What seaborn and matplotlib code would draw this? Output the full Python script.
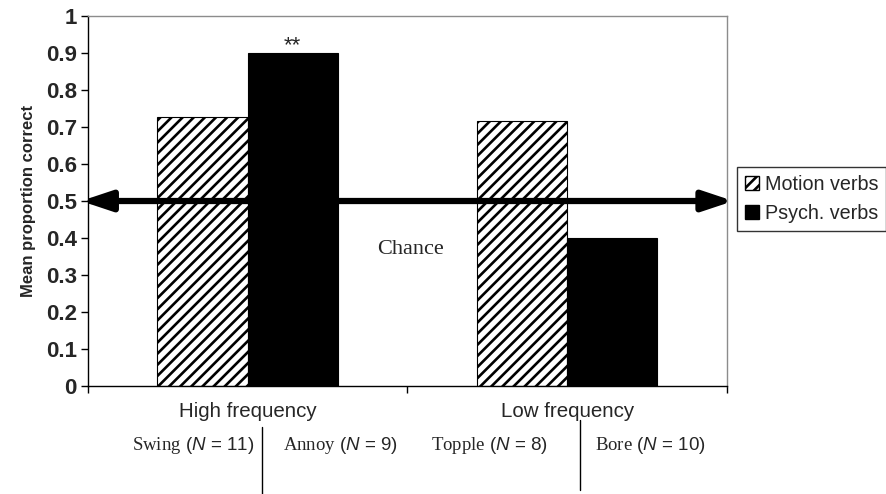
import pandas as pd
import seaborn as sns
import matplotlib.pyplot as plt
from matplotlib.patches import Patch

# data
groups = ["High frequency", "Low frequency"]
verb_types = ["Motion verbs", "Psych. verbs"]
motion_vals = [0.727, 0.716]
psych_vals = [0.90, 0.40]
sub_labels = ["Swing", "Annoy", "Topple", "Bore"]
sub_n = [11, 9, 8, 10]
chance_level = 0.5

df = pd.DataFrame({
    "group": groups * 2,
    "verb": [verb_types[0]] * 2 + [verb_types[1]] * 2,
    "prop": motion_vals + psych_vals,
})

sns.set_style("white")
plt.rcParams["font.family"] = ["Liberation Sans", "DejaVu Sans"]
plt.rcParams["mathtext.fontset"] = "custom"
plt.rcParams["mathtext.rm"] = "Liberation Serif"
plt.rcParams["mathtext.it"] = "Liberation Sans:italic"
plt.rcParams["hatch.linewidth"] = 1.9

fig = plt.figure(figsize=(8.87, 4.94), dpi=100)
ax = fig.add_axes([0.0992, 0.2186, 0.7204, 0.749])

sns.barplot(data=df, x="group", y="prop", hue="verb", order=groups,
            hue_order=verb_types, palette=["white", "black"],
            edgecolor="black", linewidth=0.8, width=0.565, ax=ax, legend=False)

for bar in ax.containers[0]:
    bar.set_hatch("///")

ax.set_xlim(-0.5, 1.5)
ax.set_ylim(0, 1)
ax.set_yticks([i / 10 for i in range(11)])
ax.set_yticklabels(["0"] + [f"{i / 10:.1f}" for i in range(1, 10)] + ["1"],
                   fontweight="bold", fontsize=16)
ax.set_xticks([-0.5, 0.5, 1.5])
ax.set_xticklabels([])
ax.tick_params(axis="both", direction="out", length=5, width=1, color="black",
               left=True, bottom=True, pad=3)
ax.set_xlabel("")
ax.set_ylabel("Mean proportion correct", fontweight="bold", fontsize=12, labelpad=7)

for side in ["left", "bottom"]:
    ax.spines[side].set_color("black")
    ax.spines[side].set_linewidth(1)
for side in ["top", "right"]:
    ax.spines[side].set_color("#8c8c8c")
    ax.spines[side].set_linewidth(1)

# chance arrow
ax.annotate("", xy=(1.52, chance_level), xytext=(-0.522, chance_level),
            arrowprops=dict(arrowstyle="<|-|>,head_length=0.45,head_width=0.15",
                            lw=4.5, color="black", mutation_scale=40,
                            shrinkA=0, shrinkB=0),
            annotation_clip=False)
ax.text(0.51, 0.37, "Chance", family="Liberation Serif", fontsize=16,
        ha="center", va="center")

ax.text(0.141, 0.905, "**", fontsize=16, ha="center", va="baseline")

# category labels under the axis
tr = ax.get_xaxis_transform()
for i, g in enumerate(groups):
    ax.text(i, -0.068, g, transform=tr, ha="center", va="center", fontsize=14.8)

sub_x = [-0.171, 0.289, 0.758, 1.259]
for x, lab, n in zip(sub_x, sub_labels, sub_n):
    ax.text(x, -0.16, rf"$\mathrm{{{lab}}}$ ($\mathit{{N}}$ = {n})", transform=tr,
            ha="center", va="center", fontsize=13.5)

ax.plot([0.045, 0.045], [-0.111, -0.30], transform=tr, color="black", lw=1, clip_on=False)
ax.plot([1.04, 1.04], [-0.092, -0.281], transform=tr, color="black", lw=1, clip_on=False)

handles = [Patch(facecolor="white", edgecolor="black", hatch="///", label=verb_types[0]),
           Patch(facecolor="black", edgecolor="black", label=verb_types[1])]
fig.legend(handles=handles, loc="center left", bbox_to_anchor=(0.831, 0.597),
           frameon=True, fancybox=False, edgecolor="black", fontsize=14.2,
           handlelength=0.7, handleheight=0.7, handletextpad=0.3,
           borderpad=0.4, labelspacing=0.5, borderaxespad=0)

fig.savefig("out.png", dpi=100)
